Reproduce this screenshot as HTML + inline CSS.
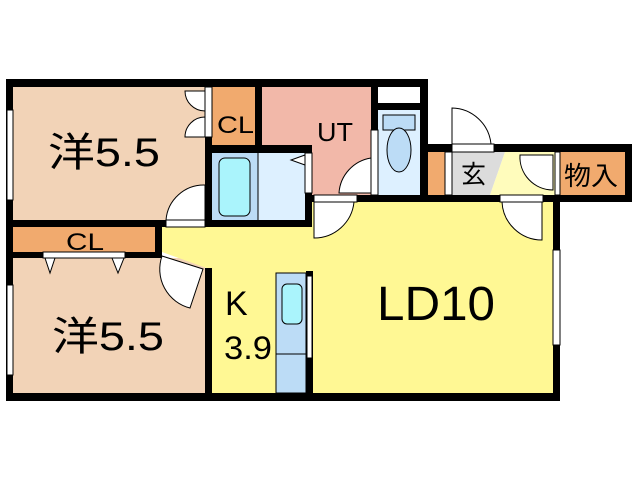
<!DOCTYPE html>
<html><head><meta charset="utf-8"><style>
html,body{margin:0;padding:0;background:#fff;}
svg{display:block;}
text{font-family:"Liberation Sans","Noto Sans CJK JP",sans-serif;fill:#000;}
</style></head><body>
<svg width="640" height="480" viewBox="0 0 640 480" xmlns="http://www.w3.org/2000/svg">
<rect x="13" y="87" width="192" height="133" fill="#f2d3b7"/>
<rect x="212" y="87" width="43" height="58" fill="#f1aa6e"/>
<rect x="262" y="87" width="109" height="108" fill="#f2b8a9"/>
<rect x="378" y="87" width="42" height="16" fill="#fff"/>
<rect x="378" y="110" width="42" height="85" fill="#ddf0ff"/>
<rect x="212" y="153" width="46" height="67" fill="#bcdcf6"/>
<rect x="258" y="153" width="47" height="67" fill="#ddf0ff"/>
<rect x="13" y="227" width="142" height="25" fill="#f1aa6e"/>
<rect x="13" y="258" width="192" height="135" fill="#f2d3b7"/>
<polygon points="162,227 305,227 305,202 553,202 553,393 212,393 212,270 162,252" fill="#fff894"/>
<rect x="428" y="152" width="17" height="43" fill="#f1aa6e"/>
<polygon points="452,152 505,152 490,195 452,195" fill="#dcdcdc"/>
<polygon points="505,152 555,152 555,195 490,195" fill="#fffcbc"/>
<rect x="560" y="152" width="67" height="43" fill="#f1aa6e"/>
<rect x="276" y="273" width="30" height="120" fill="#bcdcf6" stroke="#000" stroke-width="1"/>
<line x1="276" y1="354" x2="306" y2="354" stroke="#000"/>
<rect x="282" y="284" width="20" height="40" rx="5" fill="#aaf4fc" stroke="#000"/>
<rect x="219" y="158" width="31" height="58" rx="6" fill="#aaf4fc" stroke="#000"/>
<line x1="258" y1="153" x2="258" y2="220" stroke="#000"/>
<rect x="383" y="115" width="32" height="15" fill="#bcdcf6" stroke="#000"/>
<ellipse cx="399" cy="150" rx="12" ry="22" fill="#bcdcf6" stroke="#000"/>
<g fill="#000">
<rect x="6" y="79" width="422" height="8"/>
<rect x="6" y="79" width="7" height="321"/>
<rect x="6" y="393" width="554" height="8"/>
<rect x="205" y="79" width="7" height="148"/>
<rect x="255" y="79" width="7" height="74"/>
<rect x="205" y="145" width="107" height="8"/>
<rect x="205" y="220" width="107" height="7"/>
<rect x="305" y="145" width="7" height="82"/>
<rect x="6" y="220" width="160" height="7"/>
<rect x="155" y="220" width="7" height="38"/>
<rect x="6" y="252" width="156" height="6"/>
<rect x="205" y="268" width="7" height="132"/>
<rect x="371" y="79" width="7" height="123"/>
<rect x="378" y="103" width="42" height="7"/>
<rect x="420" y="79" width="8" height="123"/>
<rect x="305" y="195" width="327" height="7"/>
<rect x="428" y="144" width="204" height="8"/>
<rect x="625" y="144" width="7" height="58"/>
<rect x="553" y="195" width="7" height="206"/>
<rect x="306" y="271" width="7" height="122"/>
</g>
<g fill="#fff" stroke="#000" stroke-width="1">
<rect x="7" y="110" width="6" height="90"/>
<rect x="7" y="285" width="6" height="90"/>
<rect x="553" y="250" width="7" height="95"/>
<rect x="307" y="276" width="5" height="82"/>
<rect x="43" y="252" width="82" height="6"/>
<rect x="166" y="220" width="39" height="7"/>
<rect x="314" y="195" width="43" height="7"/>
<rect x="500" y="195" width="43" height="7"/>
<rect x="452" y="144" width="42" height="8"/>
<rect x="445" y="152" width="7" height="43"/>
<rect x="555" y="152" width="5" height="43"/>
<rect x="205" y="87" width="7" height="50"/>
<rect x="305" y="153" width="7" height="40"/>
<rect x="371" y="130" width="7" height="65"/>
</g>
<g fill="#fff" stroke="#000" stroke-width="1">
<path d="M205,91 L185,91 A20,20 0 0 0 205,111 Z"/>
<path d="M205,137 L185,137 A20,20 0 0 1 205,117 Z"/>
<path d="M205,185 A38,38 0 0 0 166,220 L205,220 Z"/>
<path d="M162,256 L203,269 L190,308 A40,40 0 0 1 162,256 Z"/>
<path d="M371,158 A38,38 0 0 0 339,193 L371,193 Z"/>
<path d="M314,202 L354,202 A40,40 0 0 1 314,238 Z"/>
<path d="M542,202 L502,202 A40,40 0 0 0 542,240 Z"/>
<path d="M452,144 L452,108 A40,40 0 0 1 491,144 Z"/>
<path d="M553,155 L520,155 A33,33 0 0 0 553,190 Z"/>
<polygon points="45,258 55,258 50,273"/>
<polygon points="112,258 124,258 118,273"/>
<polygon points="305,155 305,165 291,160"/>
</g>
<text x="48" y="166" font-size="40" textLength="112" lengthAdjust="spacingAndGlyphs">洋5.5</text>
<text x="217" y="133" font-size="24" textLength="37" lengthAdjust="spacingAndGlyphs">CL</text>
<text x="317" y="141" font-size="26" textLength="36" lengthAdjust="spacingAndGlyphs">UT</text>
<text x="461" y="183" font-size="25">玄</text>
<text x="564" y="185" font-size="26" textLength="54" lengthAdjust="spacingAndGlyphs">物入</text>
<text x="66" y="250" font-size="24" textLength="38" lengthAdjust="spacingAndGlyphs">CL</text>
<text x="52" y="350" font-size="40" textLength="112" lengthAdjust="spacingAndGlyphs">洋5.5</text>
<text x="225" y="315" font-size="34">K</text>
<text x="224" y="359" font-size="32" textLength="48" lengthAdjust="spacingAndGlyphs">3.9</text>
<text x="377" y="320" font-size="48" textLength="118" lengthAdjust="spacingAndGlyphs">LD10</text>
</svg>
</body></html>
